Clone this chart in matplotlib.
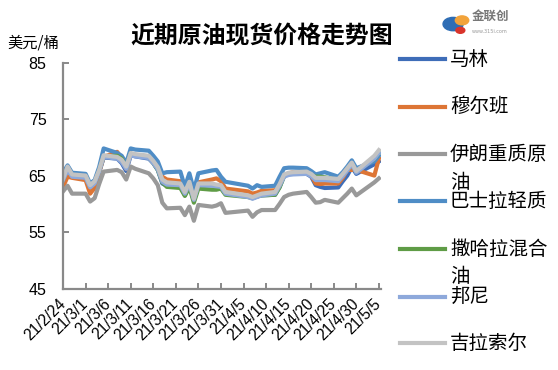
import numpy as np
import pandas as pd
import matplotlib
matplotlib.use('Agg')
import matplotlib.pyplot as plt
import matplotlib.transforms as mtransforms
from matplotlib.lines import Line2D

plt.rcParams['font.family'] = ['Noto Sans CJK SC', 'DejaVu Sans']

# Trading days (2021)
dates = pd.to_datetime([
    '2021-02-24', '2021-02-25', '2021-02-26', '2021-03-01', '2021-03-02', '2021-03-03',
    '2021-03-04', '2021-03-05', '2021-03-08', '2021-03-09', '2021-03-10', '2021-03-11',
    '2021-03-12', '2021-03-15', '2021-03-16', '2021-03-17', '2021-03-18', '2021-03-19',
    '2021-03-22', '2021-03-23', '2021-03-24', '2021-03-25', '2021-03-26', '2021-03-29',
    '2021-03-30', '2021-03-31', '2021-04-01', '2021-04-06', '2021-04-07', '2021-04-08',
    '2021-04-09', '2021-04-12', '2021-04-13', '2021-04-14', '2021-04-15', '2021-04-16',
    '2021-04-19', '2021-04-20', '2021-04-21', '2021-04-22', '2021-04-23', '2021-04-26',
    '2021-04-27', '2021-04-28', '2021-04-29', '2021-04-30', '2021-05-04', '2021-05-05',
])

# Prices, USD/bbl
marlin = [64.0, 66.2, 64.8, 64.6, 62.8, 63.5, 65.6, 68.2, 68.0, 67.2, 65.8, 68.6,
          68.4, 68.0, 67.2, 66.0, 63.6, 63.2, 63.2, 61.5, 63.4, 60.6, 63.2, 63.3,
          63.2, 62.9, 61.8, 61.4, 61.0, 61.3, 61.5, 61.6, 63.0, 65.0, 65.3, 65.4,
          65.3, 64.8, 63.3, 63.0, 62.8, 62.9, 64.0, 65.0, 66.5, 65.3, 67.0, 67.5]
murban = [63.0, 64.8, 64.6, 64.2, 61.8, 62.8, 65.5, 68.3, 69.2, 68.0, 66.2, 68.8,
          68.6, 68.4, 67.4, 66.6, 64.8, 64.3, 64.0, 62.3, 63.9, 61.2, 63.8, 64.3,
          64.5, 64.0, 62.7, 62.2, 61.8, 62.0, 62.3, 62.4, 63.4, 65.0, 65.4, 65.6,
          65.5, 65.0, 63.6, 63.5, 63.6, 63.6, 64.6, 66.0, 66.0, 66.0, 65.0, 68.0]
iran_heavy = [62.2, 63.2, 61.8, 61.8, 60.4, 61.0, 63.5, 65.7, 66.0, 65.6, 64.3, 66.6,
              66.2, 65.4, 64.5, 63.3, 60.2, 59.2, 59.3, 58.0, 59.5, 57.0, 59.8, 59.5,
              59.7, 60.1, 58.4, 58.8, 57.7, 58.5, 58.9, 58.9, 60.0, 61.2, 61.6, 61.8,
              62.1, 61.2, 60.2, 60.3, 60.7, 60.2, 61.0, 61.8, 62.7, 61.5, 63.8, 64.5]
basrah_light = [65.5, 66.8, 65.5, 65.3, 63.6, 64.2, 66.5, 69.8, 69.0, 68.5, 67.2, 69.8,
                69.6, 69.4, 68.5, 67.5, 65.4, 65.6, 65.7, 63.0, 65.4, 62.4, 65.4, 65.9,
                66.0, 64.8, 63.9, 63.2, 62.7, 63.3, 63.0, 63.2, 64.8, 66.3, 66.4, 66.4,
                66.3, 65.8, 65.2, 65.4, 65.6, 64.8, 65.6, 66.6, 67.7, 66.3, 67.5, 68.5]
saharan = [64.3, 66.3, 65.0, 64.8, 63.0, 63.7, 65.8, 68.4, 68.5, 68.0, 66.4, 68.9,
           68.6, 68.2, 67.2, 66.0, 63.8, 63.0, 62.8, 61.4, 62.9, 60.2, 62.7, 62.5,
           62.5, 62.7, 61.6, 61.2, 61.0, 61.3, 61.5, 61.6, 62.9, 64.9, 65.3, 65.4,
           65.4, 65.1, 64.8, 64.8, 64.7, 64.2, 65.0, 66.0, 67.0, 65.6, 68.0, 69.0]
bonny = [64.2, 66.0, 64.8, 64.6, 62.9, 63.6, 65.7, 68.3, 68.0, 67.4, 66.2, 68.6,
         68.4, 68.1, 67.2, 66.1, 63.9, 63.4, 63.3, 61.8, 63.5, 60.7, 63.3, 63.2,
         63.1, 63.0, 61.8, 61.2, 60.9, 61.2, 61.5, 61.8, 63.2, 64.8, 65.1, 65.2,
         65.3, 64.9, 64.2, 64.2, 64.2, 64.0, 64.9, 65.9, 67.0, 65.5, 68.0, 69.0]
girassol = [64.5, 66.6, 65.2, 65.0, 63.3, 64.0, 66.0, 68.6, 68.3, 67.8, 66.6, 69.0,
            68.8, 68.5, 67.6, 66.5, 64.3, 63.8, 63.6, 62.1, 63.9, 60.9, 63.6, 63.6,
            63.4, 63.3, 62.1, 61.5, 61.2, 61.5, 61.8, 62.1, 63.5, 65.2, 65.5, 65.6,
            65.7, 65.3, 64.6, 64.6, 64.6, 64.4, 65.3, 66.3, 67.3, 65.8, 68.5, 69.5]

names = ['马林', '穆尔班', '伊朗重质原\n油', '巴士拉轻质', '撒哈拉混合\n油', '邦尼', '吉拉索尔']
series = [marlin, murban, iran_heavy, basrah_light, saharan, bonny, girassol]
colors = ['#3E6DB8', '#DD7535', '#999999', '#4F8DC6', '#5F9C46', '#8EA9DB', '#C3C3C3']

tick_dates = pd.date_range('2021-02-24', '2021-05-05', freq='5D')
tick_labels = [f"{d.year % 100}/{d.month}/{d.day}" for d in tick_dates]
y_ticks = [45, 55, 65, 75, 85]

fig = plt.figure(figsize=(5.58, 3.70), dpi=100)
ax = fig.add_axes([0.113, 0.220, 0.570, 0.611])

for vals, c in zip(series, colors):
    ax.plot(dates, vals, color=c, linewidth=3.0, solid_joinstyle='round')

ax.set_xlim(pd.Timestamp('2021-02-24'), pd.Timestamp('2021-05-05 12:00'))
ax.set_ylim(45, 85)
ax.set_yticks(y_ticks)
ax.set_yticklabels([str(v) for v in y_ticks], family=['Liberation Sans'], fontsize=11.5)
ax.set_xticks(tick_dates)
ax.set_xticklabels(tick_labels, family=['Liberation Sans'], fontsize=11.2,
                   rotation=45, ha='right', va='center', rotation_mode='anchor')
shift = mtransforms.ScaledTranslation(4 / 100, -4 / 100, fig.dpi_scale_trans)
for lbl in ax.get_xticklabels():
    lbl.set_transform(lbl.get_transform() + shift)

for s in ['top', 'right']:
    ax.spines[s].set_visible(False)
for s in ['left', 'bottom']:
    ax.spines[s].set_color('#898989')
    ax.spines[s].set_linewidth(1.6)
ax.tick_params(axis='both', direction='in', length=4, width=1.4, color='#898989')
ax.tick_params(axis='y', pad=12)
ax.tick_params(axis='x', pad=9)

fig.text(0.469, 0.905, '近期原油现货价格走势图', fontsize=17.2, fontweight='bold',
         ha='center', va='center')
fig.text(0.014, 0.885, '美元/桶', fontsize=11, ha='left', va='center')

# logo
fig.text(0.845, 0.955, '金联创', fontsize=9, color='#777777', ha='left', va='center',
         fontweight='bold')
fig.text(0.845, 0.915, 'www.315i.com', fontsize=3.5, color='#999999', ha='left', va='center',
         family=['DejaVu Sans'])
fig.patches.append(plt.Circle((0.812, 0.935), 0.018, transform=fig.transFigure,
                              color='#2E6DB4', zorder=3))
fig.patches.append(plt.Circle((0.828, 0.945), 0.012, transform=fig.transFigure,
                              color='#F2A33A', zorder=4))
fig.patches.append(plt.Circle((0.825, 0.918), 0.008, transform=fig.transFigure,
                              color='#D9342B', zorder=4))

# legend
leg_y = [59, 106.5, 154, 201, 249, 296.5, 343]
for name, c, yp in zip(names, colors, leg_y):
    yf = 1 - yp / 370
    fig.add_artist(Line2D([400 / 558, 445 / 558], [yf, yf], color=c, linewidth=3.0,
                          transform=fig.transFigure))
    fig.text(450 / 558, yf, name.split('\n')[0], fontsize=14, ha='left', va='center')
    if '\n' in name:
        fig.text(450 / 558, 1 - (yp + 28) / 370, name.split('\n')[1], fontsize=14,
                 ha='left', va='center')

fig.savefig('out.png', dpi=100)
